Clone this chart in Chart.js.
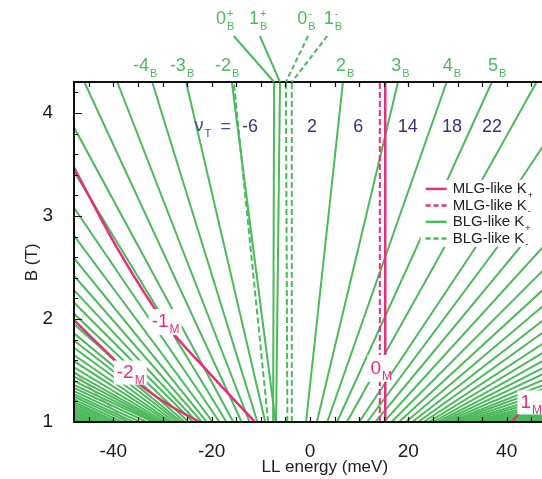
<!DOCTYPE html>
<html>
<head>
<meta charset="utf-8">
<script src="https://cdn.jsdelivr.net/npm/chart.js@4.4.1/dist/chart.umd.min.js"></script>
<style>
  html, body { margin: 0; padding: 0; overflow: hidden; background: #fff; }
  #wrap { width: 546px; height: 479px; }
</style>
</head>
<body>
<div id="wrap"><canvas id="fan" width="546" height="479"></canvas></div>
<script>
// ==========================================
// 1. VALUES
// ==========================================
// x = LL energy (meV), y = B (T)
const eMin = -48, eMax = 48, bMin = 1, bMax = 4.3;
const xTickLabels = [-40, -20, 0, 20, 40];
const yTickLabels = [1, 2, 3, 4];

// BLG-like K+ hole levels -2..-6 that leave through the top: energy at 4.3 T and at 1 T
const holeTopE = [-15.9, -25.2, -32.1, -39.2, -45.9];
const holeTopBottomE = [-7.0, -9.1, -10.7, -12.3, -13.9];

// higher hole levels leave through the left edge: B where they cross -48 meV, energy at 1 T
const holeEdgeB = [3.86, 3.43, 3.08, 2.81, 2.59, 2.42, 2.28, 2.16, 2.05, 1.95, 1.86, 1.79,
  1.72, 1.65, 1.59, 1.53, 1.48, 1.44, 1.40, 1.36, 1.33, 1.30, 1.27, 1.245, 1.22, 1.195,
  1.175, 1.155, 1.135, 1.115, 1.095, 1.08, 1.065, 1.05, 1.035, 1.02, 1.008];
const holeEdgeBottomE = [-15.6, -17.0, -18.4, -19.8, -21.0, -22.0, -23.0, -23.8, -24.7, -25.5,
  -26.2, -26.8, -27.5, -28.2, -28.8, -29.5, -30.1, -30.7, -31.3, -31.9, -33.2, -34.6, -35.9,
  -37.0, -38.2, -39.3, -40.2, -41.1, -42.0, -42.9, -43.7, -44.4, -45.1, -45.8, -46.4, -47.1, -47.6];

// BLG-like K+ electron levels 2..6 leaving through the top
const elecTopE = [6.7, 17.9, 27.8, 37.0, 46.1];
const elecTopBottomE = [-0.8, 1.4, 3.5, 5.5, 7.5];

// higher electron levels leave through the right edge (+48 meV)
const elecEdgeB = [3.72, 3.33, 3.00, 2.73, 2.50, 2.31, 2.15, 2.01, 1.89, 1.78, 1.69, 1.61,
  1.54, 1.48, 1.42, 1.37, 1.33, 1.29, 1.25, 1.22, 1.19, 1.165, 1.14, 1.12, 1.10, 1.085,
  1.07, 1.055, 1.045, 1.035, 1.025, 1.018, 1.012, 1.006];
const elecEdgeBottomE = [10.0, 11.6, 13.3, 15.0, 16.6, 18.1, 19.5, 20.8, 22.0, 23.1, 24.1, 25.0,
  25.9, 26.7, 27.5, 28.3, 29.0, 29.8, 30.7, 31.6, 32.6, 33.6, 34.6, 35.6, 36.6, 37.6,
  38.6, 39.7, 40.7, 41.8, 42.9, 44.0, 45.2, 46.5];

// near-flat BLG-like levels 0 and 1 (energy at 4.3 T, energy at 1 T)
const zeroOnePlusTop = [-7.3, -6.1];
const zeroOnePlusBottom = [-7.5, -6.9];
const zeroOneMinusTop = [-4.9, -3.7];
const zeroOneMinusBottom = [-4.6, -3.7];
// BLG-like K- level -2 (dashed)
const minusTwoKmTop = -15.5, minusTwoKmBottom = -8.5;

// MLG-like levels (pink): [energy, B] points along each curve
const mlgMinus1 = [[-48, 3.47], [-39, 2.67], [-29.5, 1.96], [-20, 1.45], [-11.2, 1.0]];
const mlgMinus2 = [[-48, 1.99], [-41, 1.66], [-34.5, 1.36], [-28.5, 1.16], [-22.4, 1.0]];
const mlgMinus3 = [[-48, 1.49], [-42.5, 1.23], [-37.2, 1.0]];
const mlgPlus1 = [[41.0, 1.0], [43.3, 1.12], [48, 1.32]];
const mlgZeroKp = 15.3;
const mlgZeroKm = 14.2;

// filling factors written across the top
const nuLabels = ['-6', '2', '6', '14', '18', '22'];
const nuLabelE = [-12.2, 0.4, 9.8, 19.9, 28.9, 37.0];

// ==========================================
// 2. BUILD DATASETS
// ==========================================
const GREEN = '#4cb95c';
const PINK = '#e62f78';
const datasets = [];

function addLine(points, color, dashed, width, order) {
  datasets.push({
    data: points.map(p => ({ x: p[0], y: p[1] })),
    borderColor: color,
    borderWidth: width,
    borderDash: dashed ? [6, 3] : [],
    pointRadius: 0,
    showLine: true,
    fill: false,
    tension: points.length > 2 ? 0.35 : 0,
    order: order
  });
}

holeTopE.forEach((e, i) => addLine([[holeTopBottomE[i], bMin], [e, bMax]], GREEN, false, 2, 2));
holeEdgeB.forEach((b, i) => addLine([[holeEdgeBottomE[i], bMin], [eMin, b]], GREEN, false, 2, 2));
elecTopE.forEach((e, i) => addLine([[elecTopBottomE[i], bMin], [e, bMax]], GREEN, false, 2, 2));
elecEdgeB.forEach((b, i) => addLine([[elecEdgeBottomE[i], bMin], [eMax, b]], GREEN, false, 2, 2));
zeroOnePlusTop.forEach((e, i) => addLine([[zeroOnePlusBottom[i], bMin], [e, bMax]], GREEN, false, 2, 2));
zeroOneMinusTop.forEach((e, i) => addLine([[zeroOneMinusBottom[i], bMin], [e, bMax]], GREEN, true, 2, 2));
addLine([[minusTwoKmBottom, bMin], [minusTwoKmTop, bMax]], GREEN, true, 2, 2);

addLine(mlgMinus3, 'rgba(230,47,120,0.45)', false, 1.5, 3);
addLine(mlgMinus1, PINK, false, 2.5, 1);
addLine(mlgMinus2, PINK, false, 2.5, 1);
addLine(mlgPlus1, PINK, false, 2.5, 1);
addLine([[mlgZeroKm, bMin], [mlgZeroKm, bMax]], PINK, true, 2, 1);
addLine([[mlgZeroKp, bMin], [mlgZeroKp, bMax]], PINK, false, 2.5, 1);

// ==========================================
// 3. ANNOTATIONS (labels, legend, frame with inward ticks)
// ==========================================
const FONT = '"Liberation Sans", Arial, sans-serif';

function subText(ctx, x, y, main, sub, sup, size, color) {
  // main text with optional superscript / subscript, left aligned
  ctx.fillStyle = color;
  ctx.textAlign = 'left';
  ctx.textBaseline = 'middle';
  ctx.font = size + 'px ' + FONT;
  ctx.fillText(main, x, y);
  const w = ctx.measureText(main).width;
  ctx.font = Math.round(size * 0.62) + 'px ' + FONT;
  if (sup) ctx.fillText(sup, x + w + 1, y - size * 0.3);
  if (sub) ctx.fillText(sub, x + w + 1, y + size * 0.42);
}

function boxLabel(ctx, x, y, main, sub, w, h) {
  ctx.fillStyle = '#fff';
  ctx.fillRect(x - 3, y - h / 2, w, h);
  subText(ctx, x, y, main, sub, null, 19, PINK);
}

const annotations = {
  id: 'annotations',
  afterDatasetsDraw(chart) {
    const { ctx, chartArea: a, scales: { x, y } } = chart;
    ctx.save();

    // pink level labels on white boxes
    boxLabel(ctx, x.getPixelForValue(-32.2), y.getPixelForValue(1.97), '-1', 'M', 33, 26);
    boxLabel(ctx, x.getPixelForValue(-39.3), y.getPixelForValue(1.48), '-2', 'M', 33, 24);
    boxLabel(ctx, x.getPixelForValue(12.3), y.getPixelForValue(1.52), '0', 'M', 22, 27);
    boxLabel(ctx, x.getPixelForValue(42.8), y.getPixelForValue(1.19), '1', 'M', 30, 24);

    // filling factor row
    const nuY = y.getPixelForValue(3.86);
    ctx.fillStyle = '#34347a';
    ctx.textBaseline = 'middle';
    ctx.textAlign = 'center';
    ctx.font = '18px ' + FONT;
    nuLabels.forEach((t, i) => ctx.fillText(t, x.getPixelForValue(nuLabelE[i]), nuY));
    subText(ctx, x.getPixelForValue(-23.5), nuY - 1, '\u03bd', 'T', null, 18, '#4a4a8a');
    ctx.font = '18px ' + FONT;
    ctx.textAlign = 'left';
    ctx.fillText('=', x.getPixelForValue(-18.2), nuY);

    // legend
    const lx = x.getPixelForValue(22.5), ly = y.getPixelForValue(3.35);
    ctx.fillStyle = '#fff';
    ctx.fillRect(lx, ly, 130, 67);
    const rows = [
      [PINK, false, 'MLG-like K', '+'],
      [PINK, true, 'MLG-like K', '-'],
      [GREEN, false, 'BLG-like K', '+'],
      [GREEN, true, 'BLG-like K', '-']
    ];
    rows.forEach((r, i) => {
      const ry = ly + 9 + i * 16.5;
      ctx.strokeStyle = r[0];
      ctx.lineWidth = 2.5;
      ctx.setLineDash(r[1] ? [5, 3] : []);
      ctx.beginPath();
      ctx.moveTo(lx + 5, ry);
      ctx.lineTo(lx + 26, ry);
      ctx.stroke();
      ctx.setLineDash([]);
      subText(ctx, lx + 32, ry, r[2], r[3], null, 15, '#222');
    });

    // frame
    ctx.strokeStyle = '#111';
    ctx.lineWidth = 2;
    ctx.strokeRect(a.left, a.top, a.right - a.left, a.bottom - a.top);

    // inward ticks: every 5 meV on top and bottom, every 0.2 T on the left
    ctx.lineWidth = 1.2;
    ctx.beginPath();
    for (let e = -45; e <= 45; e += 5) {
      const px = Math.round(x.getPixelForValue(e)) + 0.5;
      ctx.moveTo(px, a.bottom); ctx.lineTo(px, a.bottom - 5);
      ctx.moveTo(px, a.top); ctx.lineTo(px, a.top + 5);
    }
    for (let k = 6; k <= 21; k++) {
      const py = Math.round(y.getPixelForValue(k / 5)) + 0.5;
      const len = k % 5 === 0 ? 8 : 4;
      ctx.moveTo(a.left, py); ctx.lineTo(a.left + len, py);
    }
    ctx.stroke();

    // level labels above the frame
    const topLabs = [['-4', -36.0], ['-3', -28.5], ['-2', -19.3], ['2', 5.3], ['3', 16.5], ['4', 27.0], ['5', 36.2]];
    topLabs.forEach(l => subText(ctx, x.getPixelForValue(l[1]), 66, l[0], 'B', null, 18, GREEN));
    const upLabs = [['0', '+', -19.1], ['1', '+', -12.4], ['0', '-', -2.6], ['1', '-', 2.8]];
    upLabs.forEach(l => subText(ctx, x.getPixelForValue(l[2]), 19, l[0], 'B', l[1], 18, GREEN));

    // leader lines from the upper labels to the flat levels
    ctx.strokeStyle = GREEN;
    ctx.lineWidth = 2;
    const leaders = [[-15.5, zeroOnePlusTop[0], false], [-10.2, zeroOnePlusTop[1], false],
                     [-0.4, zeroOneMinusTop[0], true], [3.5, zeroOneMinusTop[1], true]];
    leaders.forEach(l => {
      ctx.setLineDash(l[2] ? [5, 3] : []);
      ctx.beginPath();
      ctx.moveTo(x.getPixelForValue(l[0]), 36);
      ctx.lineTo(x.getPixelForValue(l[1]), a.top);
      ctx.stroke();
    });
    ctx.setLineDash([]);

    // axis titles
    ctx.fillStyle = '#222';
    ctx.font = '17px ' + FONT;
    ctx.textAlign = 'center';
    ctx.textBaseline = 'middle';
    ctx.fillText('LL energy (meV)', x.getPixelForValue(3), 467);
    ctx.translate(32, y.getPixelForValue(2.55));
    ctx.rotate(-Math.PI / 2);
    ctx.fillText('B (T)', 0, 0);

    ctx.restore();
  }
};

// ==========================================
// 4. CHART
// ==========================================
new Chart(document.getElementById('fan'), {
  type: 'scatter',
  data: { datasets },
  options: {
    responsive: false,
    animation: false,
    events: [],
    layout: { padding: { top: 82, left: 0, right: 0, bottom: 0 } },
    plugins: { legend: { display: false }, tooltip: { enabled: false } },
    scales: {
      x: {
        type: 'linear', min: eMin, max: eMax,
        afterFit(s) { s.height = 57; },
        afterBuildTicks(s) { s.ticks = xTickLabels.map(v => ({ value: v })); },
        grid: { display: false },
        border: { display: false },
        ticks: { font: { size: 19, family: FONT }, color: '#1a1a1a', padding: 10, maxRotation: 0, autoSkip: false }
      },
      y: {
        type: 'linear', min: bMin, max: bMax,
        afterFit(s) { s.width = 74; },
        afterBuildTicks(s) { s.ticks = yTickLabels.map(v => ({ value: v })); },
        grid: { display: false },
        border: { display: false },
        ticks: { font: { size: 19, family: FONT }, color: '#1a1a1a', padding: 13 }
      }
    }
  },
  plugins: [annotations]
});
</script>
</body>
</html>
